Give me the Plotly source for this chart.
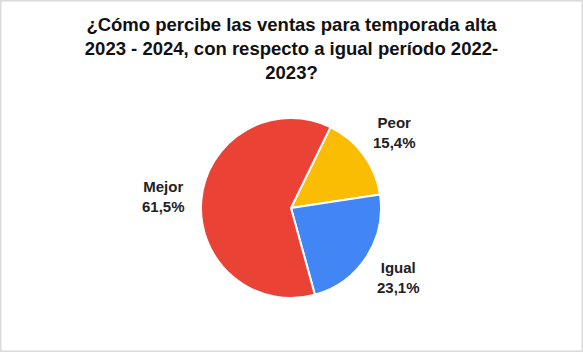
import numpy as np
import plotly.graph_objects as go

labels = ["Peor", "Igual", "Mejor"]
values = [15.4, 23.1, 61.5]
text_labels = ["15,4%", "23,1%", "61,5%"]
colors = ["#FBBC04", "#4285F4", "#EA4335"]

title = "¿Cómo percibe las ventas para temporada alta<br>2023 - 2024, con respecto a igual período 2022-<br>2023?"

W, H = 583, 352
cx, cy, r = 291, 208, 90
start_deg = 26
label_dist = 128
FONT = "Liberation Sans, Arial, sans-serif"

fig = go.Figure(go.Pie(
    labels=labels,
    values=values,
    text=text_labels,
    textinfo="none",
    sort=False,
    direction="clockwise",
    rotation=start_deg,
    marker=dict(colors=colors, line=dict(color="white", width=2)),
    domain=dict(x=[(cx - r) / W, (cx + r) / W], y=[(H - cy - r) / H, (H - cy + r) / H]),
    showlegend=False,
    hoverinfo="label+percent",
))

# outside labels placed along each slice's mid-angle ray
vals = np.array(values)
cum = np.cumsum(vals) - vals / 2
mid = np.deg2rad(start_deg + 360 * cum / vals.sum())
annotations = []
for lab, txt, a in zip(labels, text_labels, mid):
    px = cx + label_dist * np.sin(a)
    py = cy - label_dist * np.cos(a)
    annotations.append(dict(
        x=px / W, y=1 - py / H, xref="paper", yref="paper",
        text=f"<b>{lab}</b><br><b>{txt}</b>", showarrow=False,
        xanchor="center", yanchor="middle", align="center",
        font=dict(family=FONT, size=15, color="#222222"),
    ))

fig.update_layout(
    width=W, height=H,
    margin=dict(l=0, r=0, t=0, b=0),
    paper_bgcolor="white",
    title=dict(
        text="<b>" + title + "</b>",
        x=0.5, xanchor="center",
        y=1 - 31 / H, yanchor="top",
        font=dict(family=FONT, size=18.5, color="#111111"),
    ),
    annotations=annotations,
    shapes=[dict(type="rect", xref="paper", yref="paper", x0=0, y0=0, x1=1, y1=1,
                 line=dict(color="#DADADA", width=3))],
)

fig.write_html("out.html")
